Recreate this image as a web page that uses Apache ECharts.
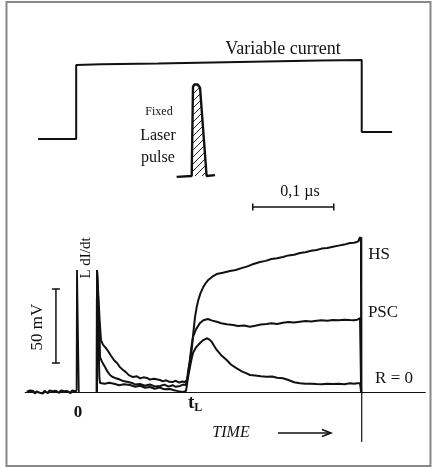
<!DOCTYPE html>
<html>
<head>
<meta charset="utf-8">
<script src="https://cdn.jsdelivr.net/npm/echarts@6/dist/echarts.min.js"></script>
<style>
  html, body { margin: 0; padding: 0; background: #fff; }
  #chart { width: 437px; height: 467px; }
</style>
</head>
<body>
<div id="chart"></div>
<script>
// ---- time in ns, signals in mV (bottom) and arbitrary units (top) ----

// drive current: [time ns, level a.u.]
const currentPulse = [[-48, 0], [-1, 0], [-1, 1.0], [30, 1.01], [100, 1.02], [200, 1.04], [300, 1.06], [351.5, 1.068], [351.5, 0.095], [389, 0.095]];

// laser pulse profile: [time ns, intensity a.u.]
const laserPulse = [[123, -0.01], [141.6, 0], [143.2, 0.97], [145, 0.995], [147, 1.0], [149, 0.995], [151.9, 0.96], [160, 0], [170.4, 0.01]];

// scale bars
const timeBarStart = 217;   // ns
const timeBarLength = 100;  // ns  (0,1 µs)
const voltBarTime = -26;    // ns
const voltBarBase = 19.6;   // mV
const voltBarLength = 50;   // mV

// end of current pulse on the voltage record
const pulseEnd = 351.5;
const endMarkerRange = [-33.8, 104.7];

// pre-trigger noise
const baselineNoise = [[-62, 0.2], [-60, -0.8], [-58, 0.9], [-56, -0.3], [-54, 0.6], [-52, -1.0], [-50, 0.4], [-48, 1.1], [-46, -0.5], [-44, 0.3], [-42, -0.9], [-40, 0.8], [-38, 0.0], [-36, -0.7], [-34, 1.0], [-32, -0.2], [-30, 0.5], [-28, -0.8], [-26, 0.7], [-24, 0.1], [-22, -0.6], [-20, 0.9], [-18, -0.3], [-16, 0.4], [-14, -0.9], [-12, 0.6], [-10, 0.2], [-8, -0.7], [-6, 1.0], [-4, -0.2], [-2, 0.4], [-0.5, 0.8]];

// switching spike at t = 0
const zeroSpike = [[-0.5, 0.8], [0, 0], [0, 82.4], [1.8, 82.4], [2.2, 0.5], [2.6, 0]];

// voltage traces
const traceHS = [[24.5, 0], [24.7, 82.4], [26.8, 82.4], [28.0, 48], [29.6, 35.1], [32, 32], [35, 30.2], [38.3, 27.7], [42, 24.5], [46, 21.3], [49.4, 19.6], [53, 16.8], [56.8, 14.9], [60, 13.6], [64, 11.4], [69.1, 10.1], [74, 10.6], [78, 9.2], [82, 9.9], [86.4, 9.5], [90, 8.4], [95, 8.9], [102.5, 8.1], [106, 7.2], [110, 7.9], [114, 6.9], [118.5, 6.8], [122, 7.6], [126, 6.4], [130, 7.1], [133.3, 6.8], [135.8, 8.1], [137.4, 14.9], [139.5, 21], [141.6, 28.4], [143.6, 40], [145.7, 50.7], [147.8, 57.5], [149.8, 62.2], [152.5, 66.8], [155.9, 70.9], [159, 73.6], [162.1, 75.7], [167, 77.9], [172.5, 79.7], [180, 80.6], [188.9, 81.8], [196, 82.4], [203, 83.7], [209.5, 84.7], [216, 86.1], [225.9, 87.8], [233, 88.6], [240, 89.9], [247, 90.4], [254.3, 91.2], [261, 92.3], [268, 92.7], [275.3, 93.9], [282, 94.4], [289, 95.4], [295.9, 95.9], [302, 96.9], [309, 97.3], [316, 98.2], [323, 98.9], [330, 99.6], [337, 100.7], [342, 100.9], [346.9, 101.6], [348.5, 101.2], [349.4, 104.7], [350.6, 101], [350.8, 0]];

const tracePSC = [[24.5, 0], [24.7, 82.4], [26.8, 82.4], [27.8, 40], [28.4, 23.6], [31, 20.2], [34.6, 16.9], [37.5, 13.9], [40.7, 11.5], [43.5, 10.3], [46.9, 9.5], [52, 8.6], [57, 7.4], [63, 6.8], [68, 6.1], [72, 5.0], [77.8, 5.4], [84, 4.2], [90, 5.1], [96, 3.8], [102.5, 4.1], [108, 5.0], [113, 3.6], [118, 4.6], [122, 3.5], [127.2, 4.1], [131, 5.0], [134.6, 4.7], [137, 11.5], [139, 20], [141, 29.5], [143.2, 37.2], [147, 42.5], [151.9, 46.6], [156, 48.5], [161.7, 49.3], [166, 48.4], [172.5, 47.5], [178, 46.5], [185, 45.8], [192.6, 45.3], [199, 44.6], [206, 44.9], [213.6, 44.1], [220, 44.8], [227, 45.6], [234.2, 45.9], [240, 46.4], [247, 45.9], [254.3, 46.8], [261, 47.3], [268, 47.0], [275.3, 47.5], [282, 47.9], [289, 47.6], [295.9, 48.2], [302, 48.4], [309, 48.1], [316, 48.6], [323, 48.4], [330, 48.8], [337, 48.6], [342, 48.5], [346, 48.8], [349.4, 50], [350.6, 49], [350.8, 0]];

const traceR0 = [[24.5, 0], [24.7, 82.4], [26.8, 82.4], [27.6, 10], [28.4, 6.1], [34, 5.6], [40, 6.3], [46.9, 5.4], [52, 4.6], [58, 5.2], [65.4, 4.7], [72, 3.5], [78, 4.2], [84, 2.9], [90.1, 3.4], [96, 2.2], [102, 3.0], [108, 1.8], [114.8, 2.0], [120, 1.2], [125, 0.6], [130.9, 0], [134.6, 0.7], [137, 9.5], [139.5, 17], [141.5, 22.5], [143.2, 26.4], [147, 30.2], [151.9, 33.1], [156, 35.1], [160.1, 36.3], [163, 35.6], [166.3, 34], [169, 31.4], [172.5, 28.4], [178, 24.9], [184.8, 21.6], [190, 18.6], [197.2, 16], [204, 13.8], [208, 12.9], [213.6, 11.5], [220, 11.1], [227, 10.6], [234.2, 10.3], [241, 10.5], [247, 9.6], [254.3, 9.3], [261, 8.1], [268, 6.6], [275.3, 5.9], [282, 5.5], [289, 5.6], [295.9, 5.4], [302, 5.3], [309, 5.6], [316, 5.4], [323, 5.5], [330, 5.2], [337, 5.9], [342, 5.6], [346, 5.9], [349.4, 5.9], [350.6, 5.9], [350.8, 0]];

// ---- drawing ----
const SERIF = '"Liberation Serif", "DejaVu Serif", serif';
const INK = '#111';

// diagonal hatch used inside the laser pulse
function hatchPattern() {
  const c = document.createElement('canvas');
  c.width = 7; c.height = 7;
  const g = c.getContext('2d');
  g.strokeStyle = '#222';
  g.lineWidth = 1;
  g.beginPath();
  g.moveTo(0, 7); g.lineTo(7, 0);
  g.moveTo(-1, 1); g.lineTo(1, -1);
  g.moveTo(6, 8); g.lineTo(8, 6);
  g.stroke();
  return c;
}

const T_MIN = -64, T_MAX = 430;
const gridLeft = 25.16, gridWidth = 400.14;

const chart = echarts.init(document.getElementById('chart'), null, { renderer: 'canvas' });

function line(data, xi, yi, width, extra) {
  return Object.assign({
    type: 'line', data: data, xAxisIndex: xi, yAxisIndex: yi,
    showSymbol: false, symbol: 'none', animation: false, silent: true,
    lineStyle: { color: INK, width: width },
    z: 3
  }, extra || {});
}

function txt(text, x, y, size, opts) {
  return {
    type: 'text', x: x, y: y, silent: true, rotation: (opts && opts.rotation) || 0,
    style: Object.assign({
      text: text, font: (opts && opts.font) || (size + 'px ' + SERIF),
      fill: INK, align: 'center', verticalAlign: 'middle'
    }, (opts && opts.style) || {})
  };
}

const option = {
  backgroundColor: '#fff',
  animation: false,
  grid: [
    { left: gridLeft, width: gridWidth, top: 20.6, height: 199.8 },
    { left: gridLeft, width: gridWidth, top: 229.2, height: 222 }
  ],
  xAxis: [
    { type: 'value', gridIndex: 0, min: T_MIN, max: T_MAX, show: false },
    { type: 'value', gridIndex: 1, min: T_MIN, max: T_MAX,
      axisLine: { show: true, onZero: true, lineStyle: { color: INK, width: 1 } },
      axisTick: { show: false }, axisLabel: { show: false }, splitLine: { show: false } }
  ],
  yAxis: [
    { type: 'value', gridIndex: 0, min: -1.1, max: 1.6, show: false },
    { type: 'value', gridIndex: 0, min: -0.4826, max: 1.6891, show: false },
    { type: 'value', gridIndex: 1, min: -40, max: 110, show: false }
  ],
  series: [
    line(currentPulse, 0, 0, 2),
    line(laserPulse, 0, 1, 2.4, {
      areaStyle: { color: { image: hatchPattern(), repeat: 'repeat' }, opacity: 1, origin: 0 }
    }),
    line([[timeBarStart, -0.919], [timeBarStart + timeBarLength, -0.919]], 0, 0, 1.5, {
      showSymbol: true, symbol: 'rect', symbolSize: [1.5, 7], itemStyle: { color: INK }
    }),
    line([[voltBarTime, voltBarBase], [voltBarTime, voltBarBase + voltBarLength]], 1, 2, 1.5, {
      showSymbol: true, symbol: 'rect', symbolSize: [8, 1.5], itemStyle: { color: INK }
    }),
    line([[pulseEnd, endMarkerRange[0]], [pulseEnd, endMarkerRange[1]]], 1, 2, 1.2),
    line(baselineNoise, 1, 2, 2.2),
    line(zeroSpike, 1, 2, 1.8),
    line(traceR0, 1, 2, 2),
    line(tracePSC, 1, 2, 2),
    line(traceHS, 1, 2, 2)
  ],
  graphic: [
    { type: 'rect', shape: { x: 6.5, y: 2, width: 424, height: 464 }, silent: true,
      style: { fill: 'none', stroke: '#888', lineWidth: 2 }, z: 0 },
    txt('Variable current', 283, 49, 18),
    txt('Fixed', 159, 112, 12),
    txt('Laser', 158, 136, 16),
    txt('pulse', 158, 158, 16),
    txt('0,1 \u00b5s', 300, 192, 16),
    txt('50 mV', 38, 327, 17, { rotation: Math.PI / 2 }),
    txt('L dI/dt', 86, 258, 15, { rotation: Math.PI / 2 }),
    txt('0', 78, 413, 17, { font: 'bold 17px ' + SERIF }),
    { type: 'text', x: 188, y: 403, silent: true,
      style: { text: '{t|t}{s|L}', fill: INK, verticalAlign: 'middle',
        rich: { t: { font: 'bold 19px ' + SERIF, fill: INK },
                s: { font: 'bold 12px ' + SERIF, fill: INK, padding: [9, 0, 0, 0] } } } },
    txt('TIME', 231, 433, 16, { font: 'italic 16px ' + SERIF }),
    { type: 'polyline', silent: true, shape: { points: [[278, 433], [331, 433]] },
      style: { stroke: INK, lineWidth: 1.5, fill: 'none' } },
    { type: 'polyline', silent: true, shape: { points: [[322, 429.5], [331, 433], [322, 436.5]] },
      style: { stroke: INK, lineWidth: 1.5, fill: 'none' } },
    txt('HS', 379, 255, 17),
    txt('PSC', 383, 313, 17),
    txt('R = 0', 394, 379, 17)
  ]
};

chart.setOption(option);
</script>
</body>
</html>
